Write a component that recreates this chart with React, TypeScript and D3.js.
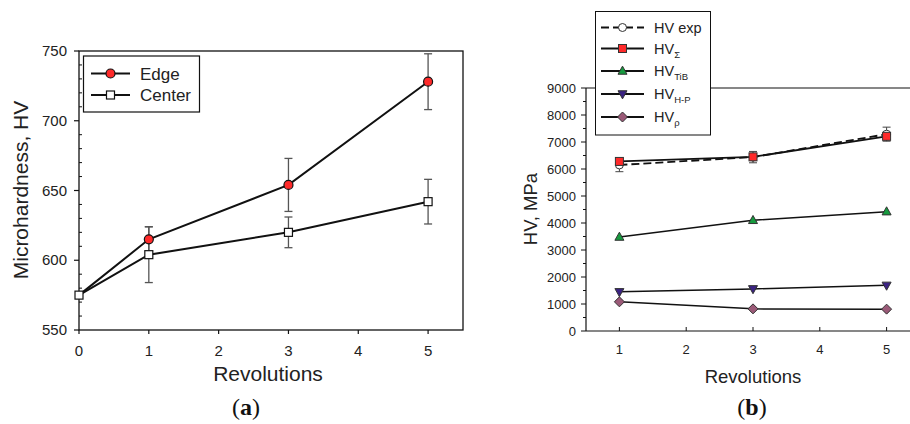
import React from "react";
import * as d3 from "d3";

// ---- Chart (a) data ----
const revA = [0, 1, 3, 5];
const edgeVals = [575, 615, 654, 728];
const edgeErr = [0, 9, 19, 20];
const centerVals = [575, 604, 620, 642];
const centerErr = [0, 20, 11, 16];
const yTicksA = [550, 600, 650, 700, 750];
const xTicksA = [0, 1, 2, 3, 4, 5];

// ---- Chart (b) data ----
const revB = [1, 3, 5];
const hvExp = [6150, 6440, 7290];
const hvExpErr = [250, 210, 260];
const hvSigma = [6280, 6450, 7210];
const hvTiB = [3480, 4100, 4420];
const hvHP = [1450, 1560, 1690];
const hvRho = [1080, 820, 810];
const yTicksB = [0, 1000, 2000, 3000, 4000, 5000, 6000, 7000, 8000, 9000];
const xTicksB = [1, 2, 3, 4, 5];

const SANS = "'Liberation Sans', Arial, sans-serif";
const SERIF = "'Liberation Serif', 'Times New Roman', serif";

const RED = "#ff2a2a";
const GREEN = "#169a3e";
const PURPLE = "#3b2383";
const MAUVE = "#9b5a78";

function trianglePath(cx: number, cy: number, s: number, down = false) {
  const h = s * 0.9;
  if (!down) return `M${cx},${cy - h * 0.6} L${cx + s / 2},${cy + h * 0.4} L${cx - s / 2},${cy + h * 0.4} Z`;
  return `M${cx},${cy + h * 0.6} L${cx + s / 2},${cy - h * 0.4} L${cx - s / 2},${cy - h * 0.4} Z`;
}
function diamondPath(cx: number, cy: number, s: number) {
  const r = s / 2;
  return `M${cx},${cy - r} L${cx + r},${cy} L${cx},${cy + r} L${cx - r},${cy} Z`;
}

export default function App() {
  // scales (a)
  const xA = d3.scaleLinear().domain([0, 5.5]).range([79, 463]);
  const yA = d3.scaleLinear().domain([550, 750]).range([330, 51]);
  // scales (b)
  const xB = d3.scaleLinear().domain([0.5, 5.5]).range([586, 920]);
  const yB = d3.scaleLinear().domain([0, 9000]).range([331, 88]);

  const lineA = (vals: number[]) =>
    d3.line<number>().x((_, i) => xA(revA[i])).y((v) => yA(v))(vals) || "";
  const lineB = (vals: number[]) =>
    d3.line<number>().x((_, i) => xB(revB[i])).y((v) => yB(v))(vals) || "";

  const minorA = d3.range(550, 751, 10).filter((v) => v % 50 !== 0);
  const minorB = d3.range(500, 9000, 1000);

  const errA = (vals: number[], errs: number[], key: string) =>
    vals.map((v, i) =>
      errs[i] > 0 ? (
        <g key={key + i} stroke="#555" strokeWidth={1.3}>
          <line x1={xA(revA[i])} x2={xA(revA[i])} y1={yA(v - errs[i])} y2={yA(v + errs[i])} />
          <line x1={xA(revA[i]) - 4} x2={xA(revA[i]) + 4} y1={yA(v - errs[i])} y2={yA(v - errs[i])} />
          <line x1={xA(revA[i]) - 4} x2={xA(revA[i]) + 4} y1={yA(v + errs[i])} y2={yA(v + errs[i])} />
        </g>
      ) : null
    );

  const legB = [
    { label: "HV", sub: "", rest: " exp", kind: "exp" },
    { label: "HV", sub: "Σ", rest: "", kind: "sq" },
    { label: "HV", sub: "TiB", rest: "", kind: "tri" },
    { label: "HV", sub: "H-P", rest: "", kind: "tridown" },
    { label: "HV", sub: "ρ", rest: "", kind: "dia" },
  ];
  const legRowY = [27.5, 48.5, 71, 94, 117];

  const markerB = (kind: string, cx: number, cy: number, key: string) => {
    if (kind === "exp")
      return <circle key={key} cx={cx} cy={cy} r={4} fill="#fff" stroke="#333" strokeWidth={1} />;
    if (kind === "sq")
      return <rect key={key} x={cx - 4} y={cy - 4} width={8} height={8} fill={RED} stroke="#333" strokeWidth={1} />;
    if (kind === "tri")
      return <path key={key} d={trianglePath(cx, cy, 9)} fill={GREEN} stroke="#333" strokeWidth={1} />;
    if (kind === "tridown")
      return <path key={key} d={trianglePath(cx, cy, 9, true)} fill={PURPLE} stroke="#333" strokeWidth={1} />;
    return <path key={key} d={diamondPath(cx, cy, 10)} fill={MAUVE} stroke="#333" strokeWidth={1} />;
  };

  return (
    <svg
      width={910}
      height={424}
      style={{ position: "absolute", left: 0, top: 0, background: "#fff" }}
      fontFamily={SANS}
    >
      <rect width={910} height={424} fill="#fff" />

      {/* ================= Chart (a) ================= */}
      <g>
        {/* frame */}
        <rect x={79} y={51} width={463 - 79} height={330 - 51} fill="none" stroke="#111" strokeWidth={1.3} />
        {/* y ticks */}
        {yTicksA.map((t) => (
          <g key={"ya" + t}>
            <line x1={74} x2={79} y1={yA(t)} y2={yA(t)} stroke="#111" strokeWidth={1.2} />
            <text x={67} y={yA(t) + 5} fontSize={15} textAnchor="end" fill="#222">
              {t}
            </text>
          </g>
        ))}
        {minorA.map((t) => (
          <line key={"yam" + t} x1={79} x2={82} y1={yA(t)} y2={yA(t)} stroke="#111" strokeWidth={1} />
        ))}
        {/* x ticks */}
        {xTicksA.map((t) => (
          <g key={"xa" + t}>
            <line x1={xA(t)} x2={xA(t)} y1={330} y2={334} stroke="#111" strokeWidth={1.2} />
            <text x={xA(t)} y={356} fontSize={15} textAnchor="middle" fill="#222">
              {t}
            </text>
          </g>
        ))}
        {/* axis labels */}
        <text x={268} y={381} fontSize={21} textAnchor="middle" fill="#222">
          Revolutions
        </text>
        <text transform="translate(28,190) rotate(-90)" fontSize={21} textAnchor="middle" fill="#222">
          Microhardness, HV
        </text>
        {/* error bars */}
        {errA(edgeVals, edgeErr, "ee")}
        {errA(centerVals, centerErr, "ce")}
        {/* lines */}
        <path d={lineA(edgeVals)} fill="none" stroke="#111" strokeWidth={2} />
        <path d={lineA(centerVals)} fill="none" stroke="#111" strokeWidth={2} />
        {/* markers */}
        {centerVals.map((v, i) => (
          <rect key={"cm" + i} x={xA(revA[i]) - 4} y={yA(v) - 4} width={8} height={8} fill="#fff" stroke="#111" strokeWidth={1.2} />
        ))}
        {edgeVals.map((v, i) =>
          i === 0 ? null : (
            <circle key={"em" + i} cx={xA(revA[i])} cy={yA(v)} r={4.5} fill={RED} stroke="#111" strokeWidth={1.2} />
          )
        )}
        {/* legend */}
        <rect x={83.5} y={56} width={116} height={56} fill="#fff" stroke="#111" strokeWidth={1.2} />
        <line x1={91} x2={130} y1={73.5} y2={73.5} stroke="#111" strokeWidth={2} />
        <circle cx={110.5} cy={73.5} r={4.5} fill={RED} stroke="#111" strokeWidth={1.2} />
        <text x={140} y={79.5} fontSize={17} fill="#222">Edge</text>
        <line x1={91} x2={130} y1={95} y2={95} stroke="#111" strokeWidth={2} />
        <rect x={106.5} y={91} width={8} height={8} fill="#fff" stroke="#111" strokeWidth={1.2} />
        <text x={140} y={101} fontSize={17} fill="#222">Center</text>
        {/* panel label */}
        <text x={246} y={415} fontSize={24} textAnchor="middle" fontFamily={SERIF} fill="#111">
          (<tspan fontWeight="bold">a</tspan>)
        </text>
      </g>

      {/* ================= Chart (b) ================= */}
      <g>
        {/* axes */}
        <line x1={586} x2={910} y1={88} y2={88} stroke="#111" strokeWidth={1.2} />
        <line x1={586} x2={910} y1={331} y2={331} stroke="#111" strokeWidth={1.2} />
        <line x1={586} x2={586} y1={88} y2={331} stroke="#111" strokeWidth={1.2} />
        {yTicksB.map((t) => (
          <g key={"yb" + t}>
            <line x1={581} x2={586} y1={yB(t)} y2={yB(t)} stroke="#111" strokeWidth={1} />
            <text x={576} y={yB(t) + 4.5} fontSize={13} textAnchor="end" fill="#222">
              {t}
            </text>
          </g>
        ))}
        {minorB.map((t) => (
          <line key={"ybm" + t} x1={583} x2={586} y1={yB(t)} y2={yB(t)} stroke="#111" strokeWidth={1} />
        ))}
        {xTicksB.map((t) => (
          <g key={"xb" + t}>
            <line x1={xB(t)} x2={xB(t)} y1={331} y2={327} stroke="#111" strokeWidth={1} />
            <text x={xB(t)} y={354} fontSize={13} textAnchor="middle" fill="#222">
              {t}
            </text>
          </g>
        ))}
        <text x={753} y={383} fontSize={18.5} textAnchor="middle" fill="#222">
          Revolutions
        </text>
        <text transform="translate(537,209) rotate(-90)" fontSize={18.5} textAnchor="middle" fill="#222">
          HV, MPa
        </text>

        {/* exp error bars */}
        {hvExp.map((v, i) => (
          <g key={"be" + i} stroke="#444" strokeWidth={1}>
            <line x1={xB(revB[i])} x2={xB(revB[i])} y1={yB(v - hvExpErr[i])} y2={yB(v + hvExpErr[i])} />
            <line x1={xB(revB[i]) - 4} x2={xB(revB[i]) + 4} y1={yB(v - hvExpErr[i])} y2={yB(v - hvExpErr[i])} />
            <line x1={xB(revB[i]) - 4} x2={xB(revB[i]) + 4} y1={yB(v + hvExpErr[i])} y2={yB(v + hvExpErr[i])} />
          </g>
        ))}
        {/* lines */}
        <path d={lineB(hvExp)} fill="none" stroke="#111" strokeWidth={1.8} strokeDasharray="8,4" />
        <path d={lineB(hvSigma)} fill="none" stroke="#111" strokeWidth={1.8} />
        <path d={lineB(hvTiB)} fill="none" stroke="#111" strokeWidth={1.5} />
        <path d={lineB(hvHP)} fill="none" stroke="#111" strokeWidth={1.5} />
        <path d={lineB(hvRho)} fill="none" stroke="#111" strokeWidth={1.5} />
        {/* markers */}
        {hvExp.map((v, i) => markerB("exp", xB(revB[i]), yB(v), "mexp" + i))}
        {hvSigma.map((v, i) => markerB("sq", xB(revB[i]), yB(v), "msq" + i))}
        {hvTiB.map((v, i) => markerB("tri", xB(revB[i]), yB(v), "mtri" + i))}
        {hvHP.map((v, i) => markerB("tridown", xB(revB[i]), yB(v), "mtd" + i))}
        {hvRho.map((v, i) => markerB("dia", xB(revB[i]), yB(v), "mdia" + i))}

        {/* legend */}
        <rect x={595.5} y={11.5} width={115} height={123.5} fill="#fff" stroke="#111" strokeWidth={1} />
        {legB.map((d, i) => (
          <g key={"lb" + i}>
            <line
              x1={601}
              x2={644}
              y1={legRowY[i]}
              y2={legRowY[i]}
              stroke="#111"
              strokeWidth={1.8}
              strokeDasharray={d.kind === "exp" ? "8,4" : undefined}
            />
            {markerB(d.kind, 622.5, legRowY[i], "lbm" + i)}
            <text x={654} y={legRowY[i] + 5} fontSize={14.5} fill="#222">
              {d.label}
              {d.sub ? (
                <tspan fontSize={9.5} dy={4}>
                  {d.sub}
                </tspan>
              ) : null}
              {d.rest}
            </text>
          </g>
        ))}
        <text x={752} y={415} fontSize={24} textAnchor="middle" fontFamily={SERIF} fill="#111">
          (<tspan fontWeight="bold">b</tspan>)
        </text>
      </g>
    </svg>
  );
}
